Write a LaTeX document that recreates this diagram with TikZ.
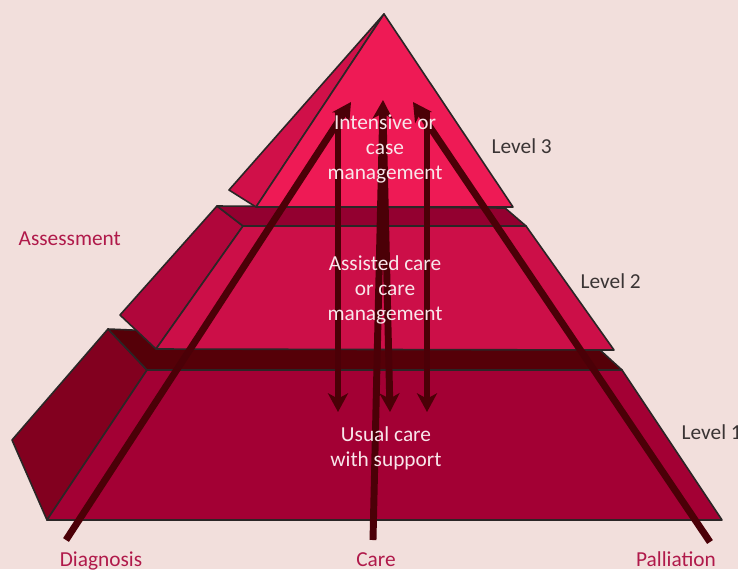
\documentclass[tikz,border=0pt]{standalone}
\usepackage{fontspec}
\setmainfont{Carlito}
\usetikzlibrary{arrows.meta}

\definecolor{bgpink}{HTML}{F2DFDC}
\definecolor{edgegray}{HTML}{2B2626}
\definecolor{topfront}{HTML}{EE1A55}
\definecolor{topside}{HTML}{D01049}
\definecolor{midfront}{HTML}{CC0F48}
\definecolor{midside}{HTML}{B0063B}
\definecolor{midband}{HTML}{930030}
\definecolor{lowfront}{HTML}{A30034}
\definecolor{lowside}{HTML}{82001F}
\definecolor{lowband}{HTML}{550008}
\definecolor{arrowred}{HTML}{4B0007}
\definecolor{labelred}{HTML}{B0194A}
\definecolor{levelgray}{HTML}{3A3434}
\definecolor{tiertext}{HTML}{F8E6EA}

\begin{document}
\begin{tikzpicture}[x=0.75pt,y=-0.75pt,
    face/.style={draw=edgegray, line width=1.2pt, line join=round},
    arr/.style={draw=arrowred, line width=5.2pt, -{Stealth[length=14pt,width=15pt,inset=4pt]}},
    tiertxt/.style={text=tiertext, align=center, font=\fontsize{16}{19}\selectfont},
    lvltxt/.style={text=levelgray, anchor=west, font=\fontsize{16}{19}\selectfont},
    sidetxt/.style={text=labelred, font=\fontsize{16}{19}\selectfont}]
    \useasboundingbox (0,0) rectangle (738,569);
    \fill[bgpink] (0,0) rectangle (738,569);
    % level 1
    \filldraw[face, fill=lowside] (12,440)--(108,329)--(147,370)--(47,520)--cycle;
    \filldraw[face, fill=lowband] (108,329)--(600,350)--(622,370)--(147,370)--cycle;
    \filldraw[face, fill=lowfront] (147,370)--(622,370)--(722,520)--(47,520)--cycle;
    % level 2
    \filldraw[face, fill=midside] (120,315)--(217,206)--(243,226)--(156,349)--cycle;
    \filldraw[face, fill=midband] (217,206)--(505,208)--(526,226)--(243,226)--cycle;
    \filldraw[face, fill=midfront] (243,226)--(526,226)--(614,350)--(156,349)--cycle;
    % level 3
    \filldraw[face, fill=topside] (384,14)--(229,190)--(256,207)--cycle;
    \filldraw[face, fill=topfront] (384,14)--(513,207)--(256,207)--cycle;

    \coordinate (diagB) at (66,540);
    \coordinate (diagT) at (351,102);
    \coordinate (careB) at (373,540);
    \coordinate (careT) at (383,100);
    \coordinate (pallB) at (710,542);
    \coordinate (pallT) at (413,102);
    \coordinate (downLT) at (338,112);
    \coordinate (downLB) at (338,412);
    \coordinate (downMT) at (383,112);
    \coordinate (downMB) at (390,412);
    \coordinate (downRT) at (427,112);
    \coordinate (downRB) at (427,412);

    \draw[arr] (downLT) -- (downLB);
    \draw[arr] (downMT) -- (downMB);
    \draw[arr] (downRT) -- (downRB);
    \draw[arr] (diagB) -- (diagT);
    \draw[arr] (careB) -- (careT);
    \draw[arr] (pallB) -- (pallT);

    \node[tiertxt] (intensive) at (385,149) {Intensive or\\case\\management};
    \node[tiertxt] (assisted) at (385,290) {Assisted care\\or care\\management};
    \node[tiertxt] (usual) at (386,448) {Usual care\\with support};

    \node[lvltxt] (lvl3) at (487,146) {Level 3};
    \node[lvltxt] (lvl2) at (576,281) {Level 2};
    \node[lvltxt] (lvl1) at (677,432) {Level 1};

    \node[sidetxt, anchor=west] (assess) at (14,239) {Assessment};
    \node[sidetxt, anchor=base] (diagnosis) at (101,566) {Diagnosis};
    \node[sidetxt, anchor=base] (care) at (376,566) {Care};
    \node[sidetxt, anchor=base] (palliation) at (676,566) {Palliation};
\end{tikzpicture}
\end{document}
